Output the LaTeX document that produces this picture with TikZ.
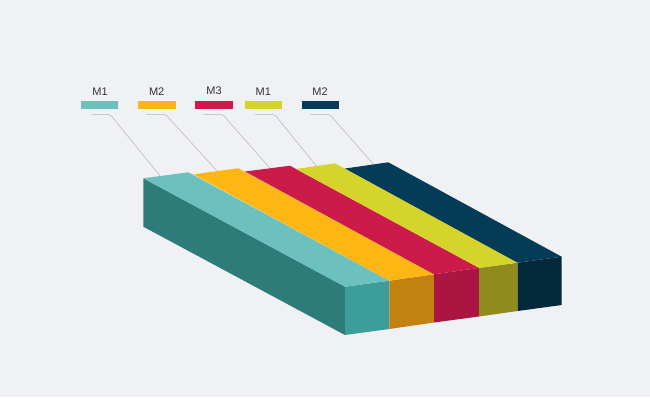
\documentclass[tikz,border=0pt]{standalone}
\usepackage{fontspec}
\setmainfont{Liberation Sans}
\definecolor{bgc}{HTML}{F0F1F5}
\definecolor{tealTop}{HTML}{6CC1BE}
\definecolor{tealSide}{HTML}{2E7C79}
\definecolor{tealFront}{HTML}{3D9D9B}
\definecolor{orTop}{HTML}{FDB614}
\definecolor{orFront}{HTML}{C3820F}
\definecolor{redTop}{HTML}{CC1A4B}
\definecolor{redFront}{HTML}{AA1641}
\definecolor{yelTop}{HTML}{D4D42A}
\definecolor{yelFront}{HTML}{918B1C}
\definecolor{navTop}{HTML}{043C57}
\definecolor{navFront}{HTML}{03293A}
\definecolor{labc}{HTML}{333333}
\definecolor{leadc}{HTML}{B4B4B8}
\begin{document}
\begin{tikzpicture}[x=1pt,y=-1pt,
  legbox/.style={minimum width=37.3pt,minimum height=8.3pt,inner sep=0pt,draw=none},
  lab/.style={font=\fontsize{11}{13}\selectfont,text=labc,inner sep=0pt},
  leader/.style={draw=leadc,line width=0.5pt,rounded corners=2pt}]
\fill[bgc] (0,0) rectangle (650,397);
\useasboundingbox (0,0) rectangle (650,397);

% left side face
\fill[tealSide] (143.3,178.3) -- (345,286.7) -- (345,335) -- (143.3,226.7) -- cycle;
% front faces
\fill[tealFront] (345,286.7) -- (389.3,280.7) -- (389.3,329) -- (345,335) -- cycle;
\fill[orFront] (389.3,280.7) -- (434,274.3) -- (434,322.5) -- (389.3,329) -- cycle;
\fill[redFront] (434,274.3) -- (479,267.9) -- (479,316.5) -- (434,322.5) -- cycle;
\fill[yelFront] (479,267.9) -- (517.7,262.7) -- (517.7,311) -- (479,316.5) -- cycle;
\fill[navFront] (517.7,262.7) -- (561.7,256.7) -- (561.7,305) -- (517.7,311) -- cycle;
% top faces
\fill[tealTop] (143.3,178.3) -- (188.3,172.3) -- (389.3,280.7) -- (345,286.7) -- cycle;
\fill[orTop] (193.3,174.3) -- (238.3,168.3) -- (434,274.3) -- (389.3,280.7) -- cycle;
\fill[redTop] (245,171.5) -- (290,165.7) -- (479,267.9) -- (434,274.3) -- cycle;
\fill[yelTop] (296,169) -- (335,163.3) -- (517.7,262.7) -- (479,267.9) -- cycle;
\fill[navTop] (345,168.5) -- (388.3,162.3) -- (561.7,256.7) -- (517.7,262.7) -- cycle;

% legend boxes
\node[legbox,fill=tealTop] (k1) at (99.7,105.2) {};
\node[legbox,fill=orTop] (k2) at (157,105.2) {};
\node[legbox,fill=redTop] (k3) at (214,105.2) {};
\node[legbox,fill=yelTop] (k4) at (263.3,105.2) {};
\node[legbox,fill=navTop] (k5) at (320.7,105.2) {};
% labels
\node[lab] (t1) at (100,91.5) {M1};
\node[lab] (t2) at (156.7,91.5) {M2};
\node[lab] (t3) at (214,90.5) {M3};
\node[lab] (t4) at (263.3,91.5) {M1};
\node[lab] (t5) at (320,91.5) {M2};

% leaders
\coordinate (s1) at (91.7,114.3); \coordinate (b1) at (110,114.3); \coordinate (e1) at (160,175.8);
\coordinate (s2) at (146.7,114.3); \coordinate (b2) at (165.5,114.3); \coordinate (e2) at (217,171);
\coordinate (s3) at (203.3,114.3); \coordinate (b3) at (222.5,114.3); \coordinate (e3) at (270,168.2);
\coordinate (s4) at (255,114.3); \coordinate (b4) at (274.5,114.3); \coordinate (e4) at (316.5,166.2);
\coordinate (s5) at (310,114.3); \coordinate (b5) at (329.5,114.3); \coordinate (e5) at (373.5,164.3);
\draw[leader] (s1) -- (b1) -- (e1);
\draw[leader] (s2) -- (b2) -- (e2);
\draw[leader] (s3) -- (b3) -- (e3);
\draw[leader] (s4) -- (b4) -- (e4);
\draw[leader] (s5) -- (b5) -- (e5);
\end{tikzpicture}
\end{document}
